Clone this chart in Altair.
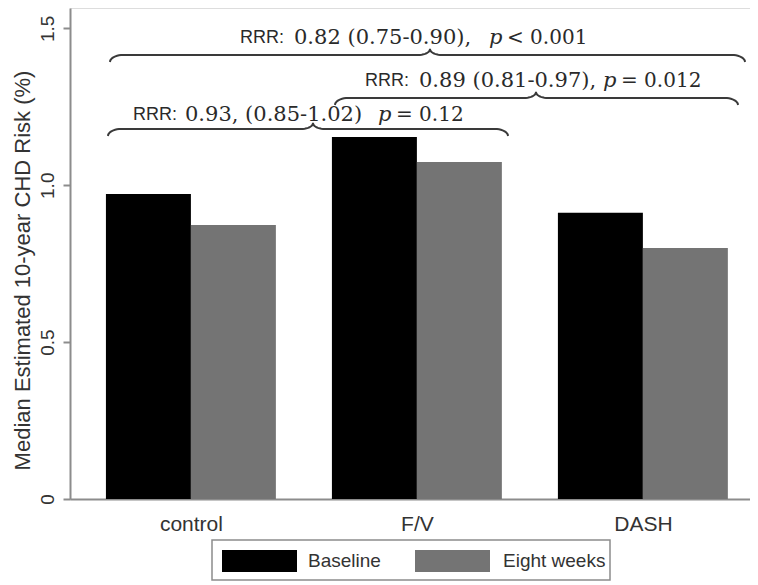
import math
import altair as alt
import pandas as pd

# ---------------- data ----------------
groups = ["control", "F/V", "DASH"]
periods = ["Baseline", "Eight weeks"]
baseline = [0.972, 1.154, 0.912]
eight_weeks = [0.873, 1.074, 0.800]

rrr_prefix = ["RRR:", "RRR:", "RRR:"]
rrr_values = ["0.82 (0.75-0.90),", "0.89 (0.81-0.97),", "0.93, (0.85-1.02)"]
p_symbol = ["p", "p", "p"]
p_values = ["< 0.001", "= 0.012", "= 0.12"]

y_title = "Median Estimated 10-year CHD Risk (%)"
y_ticks = [0, 0.5, 1.0, 1.5]

# ---------------- layout helpers (pixel -> data) ----------------
W, H = 680, 491
XMIN, XMAX = -0.535, 2.474
YMAX = 1.565
PX_X = W / (XMAX - XMIN)
PX_Y = H / YMAX
LEFT, TOP = 70, 8


def dx(px):
    return XMIN + (px - LEFT) / PX_X


def dy(py):
    return (TOP + H - py) / PX_Y


# ---------------- bars ----------------
half = 0.376
rows = []
for i, g in enumerate(groups):
    rows.append({"group": g, "period": periods[0], "value": baseline[i],
                 "x0": i - half, "x1": i})
    rows.append({"group": g, "period": periods[1], "value": eight_weeks[i],
                 "x0": i, "x1": i + half})
bars_df = pd.DataFrame(rows)

label_expr = "['control','F/V','DASH'][datum.value]"
colors = ["#000000", "#747474"]

bars = alt.Chart(bars_df).mark_rect().encode(
    x=alt.X("x0:Q", scale=alt.Scale(domain=[XMIN, XMAX], nice=False, zero=False),
            axis=alt.Axis(values=[0, 1, 2], labelExpr=label_expr, title=None,
                          tickSize=0, grid=False, labelFontSize=21,
                          labelPadding=14, labelColor="#333333",
                          domainColor="#8c8c8c", domainWidth=2,
                          labelFont="Liberation Sans")),
    x2="x1:Q",
    y=alt.Y("value:Q", scale=alt.Scale(domain=[0, YMAX], nice=False),
            axis=alt.Axis(values=y_ticks,
                          labelExpr="datum.value == 0 ? '0' : format(datum.value, '.1f')",
                          labelAngle=270, labelAlign="center", labelBaseline="bottom",
                          labelPadding=6, tickSize=7, tickColor="#8c8c8c", tickWidth=2,
                          grid=False, labelFontSize=19, labelColor="#333333",
                          labelFont="Liberation Sans",
                          domainColor="#8c8c8c", domainWidth=2,
                          title=y_title, titleFont="Liberation Sans",
                          titleFontSize=22, titleFontWeight="normal",
                          titleColor="#333333", titleAngle=270,
                          titleX=-48, titleY=262, titleAlign="center",
                          titleBaseline="middle")),
    y2=alt.datum(0),
    color=alt.Color("period:N", scale=alt.Scale(domain=periods, range=colors),
                    legend=None),
)

# ---------------- braces ----------------
def brace(x0, x1, xc, yb, bid, drop=7, ew=13, ch=6, cw=12, n=10):
    pts = []
    for k in range(n + 1):
        t = k / n * math.pi / 2
        pts.append((x0 + ew * (1 - math.cos(t)), yb + drop * (1 - math.sin(t))))
    for k in range(n + 1):
        t = k / n * math.pi / 2
        pts.append((xc - cw + cw * math.sin(t), yb - ch * (1 - math.cos(t))))
    for k in range(n, -1, -1):
        t = k / n * math.pi / 2
        pts.append((xc + cw - cw * math.sin(t), yb - ch * (1 - math.cos(t))))
    for k in range(n, -1, -1):
        t = k / n * math.pi / 2
        pts.append((x1 - ew * (1 - math.cos(t)), yb + drop * (1 - math.sin(t))))
    return [{"bid": bid, "seq": j, "bx": dx(px), "by": dy(py)}
            for j, (px, py) in enumerate(pts)]


brace_rows = (brace(110, 745, 430, 55, 0)
              + brace(335, 738, 536, 98, 1)
              + brace(108, 508, 313, 129, 2))
brace_df = pd.DataFrame(brace_rows)

braces = alt.Chart(brace_df).mark_line(color="#3a3a3a", strokeWidth=2).encode(
    x="bx:Q", y="by:Q", detail="bid:N", order="seq:Q"
)

# ---------------- annotation texts ----------------
text_y = [38, 81, 115]
pre_x = [240, 365, 133]      # left edges
val_x = [294, 419, 185]      # left edges
p_x = [489, 603, 378]        # left edges
pv_x = [507, 621, 396]       # left edges

ann_df = pd.DataFrame({
    "pre": rrr_prefix, "val": rrr_values, "p": p_symbol, "pv": p_values,
    "ty": [dy(v) for v in text_y],
    "xpre": [dx(v) for v in pre_x], "xval": [dx(v) for v in val_x],
    "xp": [dx(v) for v in p_x], "xpv": [dx(v) for v in pv_x],
})

ink = "#2a2a2a"
ann_base = alt.Chart(ann_df)
t_pre = ann_base.mark_text(font="Liberation Sans", fontSize=18, color=ink,
                           align="left", baseline="middle").encode(
    x="xpre:Q", y="ty:Q", text="pre:N")
t_val = ann_base.mark_text(font="DejaVu Serif", fontSize=21, color=ink,
                           align="left", baseline="middle").encode(
    x="xval:Q", y="ty:Q", text="val:N")
t_p = ann_base.mark_text(font="DejaVu Serif", fontStyle="italic", fontSize=21,
                         color=ink, align="left", baseline="middle").encode(
    x="xp:Q", y="ty:Q", text="p:N")
t_pv = ann_base.mark_text(font="DejaVu Serif", fontSize=20, color=ink,
                          align="left", baseline="middle").encode(
    x="xpv:Q", y="ty:Q", text="pv:N")

# ---------------- manual legend ----------------
legend_box = alt.Chart(pd.DataFrame({"k": [0]})).mark_rect(
    fill="white", stroke="#8c8c8c", strokeWidth=1.5).encode(
    x=alt.value(142), x2=alt.value(540), y=alt.value(532), y2=alt.value(572))

sw_df = pd.DataFrame({"period": periods, "sx": [152, 345], "sx2": [227, 420],
                      "lx": [238, 433]})
swatches = alt.Chart(sw_df).mark_rect().encode(
    x=alt.X("sx:Q", scale=None), x2="sx2:Q",
    y=alt.value(542), y2=alt.value(564),
    color=alt.Color("period:N", scale=alt.Scale(domain=periods, range=colors),
                    legend=None),
)
legend_labels = alt.Chart(sw_df).mark_text(
    font="Liberation Sans", fontSize=19, color="#333333", align="left",
    baseline="middle").encode(
    x=alt.X("lx:Q", scale=None), y=alt.value(553), text="period:N")

chart = alt.layer(
    bars, braces, t_pre, t_val, t_p, t_pv, legend_box, swatches, legend_labels
).properties(
    width=W, height=H,
    autosize=alt.AutoSizeParams(type="none"),
    padding={"left": 62, "top": 0, "right": 0, "bottom": 85},
).configure_view(stroke=None).configure(background="white")

chart.save("out.html", embed_options={"renderer": "svg", "actions": False})
